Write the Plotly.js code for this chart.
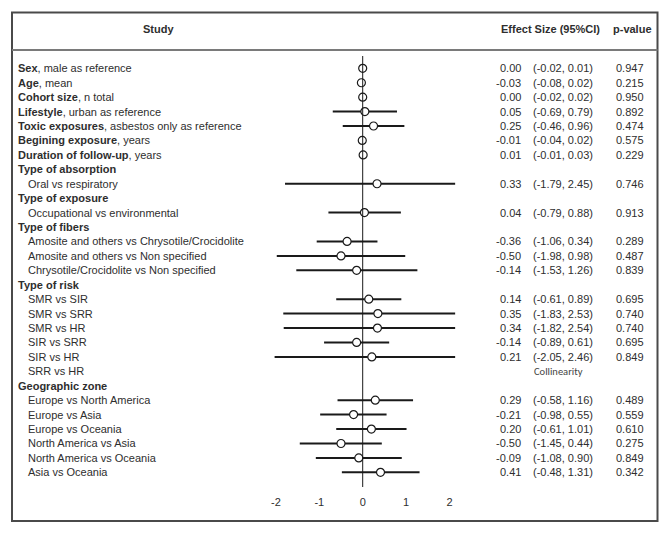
<!DOCTYPE html>
<html>
<head>
<meta charset="utf-8">
<script src="https://cdn.plot.ly/plotly-3.0.1.min.js"></script>
<style>html,body{margin:0;padding:0;background:#fff}#chart{width:671px;height:534px}</style>
</head>
<body>
<div id="chart"></div>
<script>
// ---- data ----
const labelsBold = ["Sex", "Age", "Cohort size", "Lifestyle", "Toxic exposures", "Begining exposure", "Duration of follow-up",
  "Type of absorption", "", "Type of exposure", "", "Type of fibers", "", "", "",
  "Type of risk", "", "", "", "", "", "", "Geographic zone", "", "", "", "", "", ""];
const labelsRest = [", male as reference", ", mean", ", n total", ", urban as reference", ", asbestos only as reference", ", years", ", years",
  "", "Oral vs respiratory", "", "Occupational vs environmental", "",
  "Amosite and others vs Chrysotile/Crocidolite", "Amosite and others vs Non specified", "Chrysotile/Crocidolite vs Non specified",
  "", "SMR vs SIR", "SMR vs SRR", "SMR vs HR", "SIR vs SRR", "SIR vs HR", "SRR vs HR",
  "", "Europe vs North America", "Europe vs Asia", "Europe vs Oceania", "North America vs Asia", "North America vs Oceania", "Asia vs Oceania"];
const estimate = [0.00, -0.03, 0.00, 0.05, 0.25, -0.01, 0.01,
  null, 0.33, null, 0.04, null, -0.36, -0.50, -0.14,
  null, 0.14, 0.35, 0.34, -0.14, 0.21, null,
  null, 0.29, -0.21, 0.20, -0.50, -0.09, 0.41];
const lower = [-0.02, -0.08, -0.02, -0.69, -0.46, -0.04, -0.01,
  null, -1.79, null, -0.79, null, -1.06, -1.98, -1.53,
  null, -0.61, -1.83, -1.82, -0.89, -2.05, null,
  null, -0.58, -0.98, -0.61, -1.45, -1.08, -0.48];
const upper = [0.01, 0.02, 0.02, 0.79, 0.96, 0.02, 0.03,
  null, 2.45, null, 0.88, null, 0.34, 0.98, 1.26,
  null, 0.89, 2.53, 2.54, 0.61, 2.46, null,
  null, 1.16, 0.55, 1.01, 0.44, 0.90, 1.31];
const pValues = ["0.947", "0.215", "0.950", "0.892", "0.474", "0.575", "0.229",
  "", "0.746", "", "0.913", "", "0.289", "0.487", "0.839",
  "", "0.695", "0.740", "0.740", "0.695", "0.849", "",
  "", "0.489", "0.559", "0.610", "0.275", "0.849", "0.342"];
const notes = {21: "Collinearity"};
const tickValues = [-2, -1, 0, 1, 2];
const tickLabels = ["-2", "-1", "0", "1", "2"];
const headers = {study: "Study", effect: "Effect Size (95%CI)", p: "p-value"};

// ---- layout helpers ----
const W = 671, H = 534;
const rows = labelsRest.map((_, i) => i + 1);
const rowTop = 68.3, rowStep = 14.43;
const pxToRow = py => 1 + (py - rowTop) / rowStep;
const plotBottom = 494;
const yDomain0 = (H - plotBottom) / H;
const FONT = "Liberation Sans, Arial, sans-serif";
const TXT = "#2e2e2e";

const fmt = v => v.toFixed(2);
const px = x => x / W;
const py = y => 1 - y / H;

const idx = rows.map((r, i) => i).filter(i => estimate[i] !== null);

const trace = {
  type: "scatter", mode: "markers",
  x: idx.map(i => estimate[i]),
  y: idx.map(i => rows[i]),
  error_x: {
    type: "data", symmetric: false,
    array: idx.map(i => upper[i] - estimate[i]),
    arrayminus: idx.map(i => estimate[i] - lower[i]),
    width: 0, thickness: 2, color: "#1a1a1a"
  },
  marker: {symbol: "circle", size: 8, color: "#ffffff", line: {color: "#1a1a1a", width: 1.2}},
  hoverinfo: "skip", showlegend: false
};

const annotations = [];
rows.forEach((r, i) => {
  const bold = labelsBold[i];
  const rest = labelsRest[i];
  const indented = bold === "";
  const text = (bold ? "<b>" + bold + "</b>" : "") + rest;
  annotations.push({xref: "paper", yref: "y", x: px(indented ? 26 : 16), y: r, xanchor: "left", yanchor: "middle",
    text: text, showarrow: false, font: {family: FONT, size: 11, color: TXT}});
  if (estimate[i] !== null) {
    annotations.push({xref: "paper", yref: "y", x: px(523), y: r, xanchor: "right", yanchor: "middle",
      text: fmt(estimate[i]), showarrow: false, font: {family: FONT, size: 11, color: TXT}});
    annotations.push({xref: "paper", yref: "y", x: px(531), y: r, xanchor: "left", yanchor: "middle",
      text: "(" + fmt(lower[i]) + ", " + fmt(upper[i]) + ")", showarrow: false, font: {family: FONT, size: 11, color: TXT}});
    annotations.push({xref: "paper", yref: "y", x: px(646), y: r, xanchor: "right", yanchor: "middle",
      text: pValues[i], showarrow: false, font: {family: FONT, size: 11, color: TXT}});
  }
  if (notes[i]) {
    annotations.push({xref: "paper", yref: "y", x: px(558), y: r, xanchor: "center", yanchor: "middle",
      text: notes[i], showarrow: false, font: {family: "Carlito, Calibri, Open Sans, sans-serif", size: 10.5, color: "#444"}});
  }
});
annotations.push({xref: "paper", yref: "paper", x: px(158), y: py(29), xanchor: "center", yanchor: "middle",
  text: "<b>" + headers.study + "</b>", showarrow: false, font: {family: FONT, size: 11, color: TXT}});
annotations.push({xref: "paper", yref: "paper", x: px(550), y: py(29), xanchor: "center", yanchor: "middle",
  text: "<b>" + headers.effect + "</b>", showarrow: false, font: {family: FONT, size: 11, color: TXT}});
annotations.push({xref: "paper", yref: "paper", x: px(632), y: py(29), xanchor: "center", yanchor: "middle",
  text: "<b>" + headers.p + "</b>", showarrow: false, font: {family: FONT, size: 11, color: TXT}});

const zeroPx = 362.7, unitPx = 43.4;
const xMin = -2.03, xMax = 2.13;
const xd0 = (zeroPx + xMin * unitPx) / W, xd1 = (zeroPx + xMax * unitPx) / W;

const yTopRow = pxToRow(0), yBotRow = pxToRow(plotBottom);

const shapes = [
  {type: "rect", xref: "paper", yref: "paper", x0: px(12), x1: px(657.5), y0: py(521), y1: py(12.5),
    line: {color: "#4a4a4a", width: 2}, fillcolor: "rgba(0,0,0,0)"},
  {type: "line", xref: "paper", yref: "paper", x0: px(12), x1: px(657.5), y0: py(50), y1: py(50),
    line: {color: "#7a7a7a", width: 2}},
  {type: "line", xref: "x", yref: "y", x0: 0, x1: 0, y0: pxToRow(56), y1: pxToRow(487),
    line: {color: "#1a1a1a", width: 1}}
];

const layout = {
  width: W, height: H,
  margin: {l: 0, r: 0, t: 0, b: 0},
  paper_bgcolor: "#ffffff", plot_bgcolor: "rgba(0,0,0,0)",
  showlegend: false,
  xaxis: {domain: [xd0, xd1], range: [xMin, xMax], tickvals: tickValues, ticktext: tickLabels,
    showgrid: false, zeroline: false, showline: false, ticks: "", ticklen: 0,
    tickfont: {family: FONT, size: 11, color: TXT}, fixedrange: true},
  yaxis: {domain: [yDomain0, 1], range: [yBotRow, yTopRow], visible: false, fixedrange: true},
  annotations: annotations,
  shapes: shapes
};

Plotly.newPlot("chart", [trace], layout, {displayModeBar: false, staticPlot: true});
</script>
</body>
</html>
